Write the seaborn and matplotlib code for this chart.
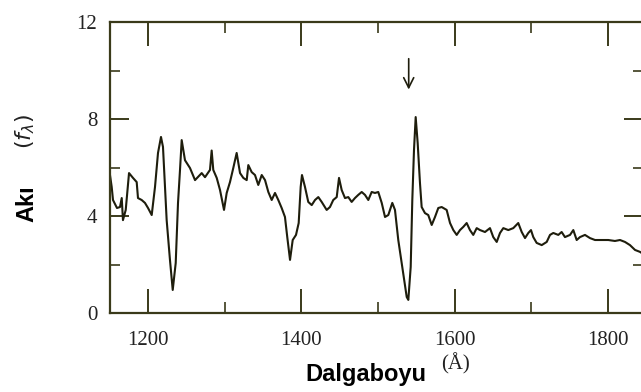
import matplotlib
matplotlib.use("Agg")
import matplotlib.pyplot as plt
import seaborn as sns
import pandas as pd

wavelength = [1150, 1152.6, 1154.3, 1159.5, 1163.4, 1165.7, 1167.3, 1170.9, 1175.2, 1180.4,
              1185.2, 1186.9, 1191.7, 1196, 1200, 1204.8, 1209.1, 1213, 1216.9, 1219.5,
              1224.3, 1228.6, 1232.2, 1236.1, 1239.1, 1241.7, 1243.9, 1248.2, 1254.7, 1261.3,
              1270, 1274.3, 1280.8, 1283, 1285.1, 1289.6, 1293.9, 1299.1, 1302.6, 1306.9,
              1311.2, 1315.6, 1320, 1324.3, 1328.7, 1330.8, 1335.2, 1339.5, 1343.8, 1348.3,
              1352.6, 1356.9, 1361.3, 1365.6, 1369.9, 1374.3, 1378.6, 1381.6, 1385.2, 1388.7,
              1393, 1396.5, 1399.1, 1400.8, 1404.7, 1409, 1413.5, 1417.8, 1422.1, 1426.5,
              1433, 1437.3, 1441.6, 1446.1, 1449.1, 1452.6, 1456.9, 1461.2, 1465.6, 1469.9,
              1474.2, 1478.7, 1483, 1487.3, 1491.7, 1496, 1500.3, 1504.8, 1509.1, 1513.4,
              1518.6, 1522.1, 1526.4, 1531.6, 1537.4, 1539.5, 1542.6, 1544.7, 1546.9, 1549.1,
              1551.7, 1554.7, 1556.9, 1561.2, 1565.5, 1570, 1574.3, 1578.6, 1583, 1589.5,
              1593.9, 1598.2, 1602.6, 1606.9, 1611.2, 1615.6, 1619.9, 1624.2, 1628.7, 1633,
              1639.5, 1646, 1650.3, 1654.8, 1659.1, 1663.4, 1669.9, 1676.4, 1682.9, 1687.4,
              1691.7, 1696, 1699.5, 1702.5, 1706.9, 1713.5, 1720, 1724.3, 1728.6, 1735.1,
              1739.5, 1743.8, 1750.4, 1754.7, 1759.1, 1763.4, 1769.9, 1776.4, 1783, 1791.7,
              1800.3, 1809, 1815.6, 1822.1, 1828.6, 1835.2, 1841.7, 1845]

flux = [5.77, 5.2, 4.66, 4.33, 4.37, 4.74, 3.83, 4.25, 5.77, 5.57,
        5.4, 4.74, 4.66, 4.54, 4.33, 4.04, 5.2, 6.6, 7.26, 6.85,
        3.83, 2.19, 0.95, 2.06, 4.54, 5.9, 7.13, 6.3, 5.98, 5.48,
        5.77, 5.6, 5.9, 6.7, 5.9, 5.57, 5.07, 4.25, 4.95, 5.4,
        5.98, 6.6, 5.77, 5.57, 5.48, 6.1, 5.81, 5.69, 5.28, 5.69,
        5.48, 4.99, 4.66, 4.95, 4.66, 4.33, 3.96, 3.13, 2.19, 3.01,
        3.22, 3.71, 5.2, 5.69, 5.2, 4.58, 4.45, 4.66, 4.78, 4.58,
        4.25, 4.37, 4.66, 4.78, 5.57, 5.07, 4.74, 4.78, 4.58, 4.74,
        4.87, 4.99, 4.87, 4.66, 4.99, 4.95, 4.99, 4.54, 3.96, 4.04,
        4.54, 4.25, 3.01, 1.9, 0.66, 0.54, 1.9, 4.66, 6.72, 8.08,
        7.01, 5.36, 4.37, 4.12, 4.04, 3.63, 3.96, 4.33, 4.37, 4.25,
        3.71, 3.42, 3.22, 3.42, 3.55, 3.71, 3.42, 3.22, 3.5, 3.42,
        3.34, 3.5, 3.13, 2.93, 3.3, 3.5, 3.42, 3.5, 3.71, 3.34,
        3.09, 3.3, 3.42, 3.13, 2.89, 2.8, 2.93, 3.22, 3.3, 3.22,
        3.34, 3.13, 3.22, 3.42, 3.01, 3.13, 3.22, 3.09, 3.01, 3.01,
        3.01, 2.97, 3.01, 2.93, 2.8, 2.6, 2.52, 2.45]

x_major = [1200, 1400, 1600, 1800]
x_minor = [1300, 1500, 1700]
y_major = [0, 4, 8, 12]
y_minor = [2, 6, 10]
x_ticklabels = ["1200", "1400", "1600", "1800"]
y_ticklabels = ["0", "4", "8", "12"]
arrow_x = 1540
arrow_y_top = 10.6
arrow_y_tip = 9.1

df = pd.DataFrame({"wl": wavelength, "flux": flux})

sns.set_style("ticks")
plt.rcParams["font.family"] = ["Liberation Sans", "DejaVu Sans"]

W, H = 641, 392
fig = plt.figure(figsize=(W / 100, H / 100), dpi=100)
left_px, right_px, top_px, bottom_px = 109.7, 643, 22, 313
ax = fig.add_axes([left_px / W, 1 - bottom_px / H, (right_px - left_px) / W, (bottom_px - top_px) / H])

ink = "#1e1d0c"
sns.lineplot(data=df, x="wl", y="flux", ax=ax, color=ink, linewidth=1.5,
             estimator=None, sort=False)

ax.set_xlim(1150, 1845.6)
ax.set_ylim(0, 12)
ax.set_xticks(x_major)
ax.set_xticks(x_minor, minor=True)
ax.set_yticks(y_major)
ax.set_yticks(y_minor, minor=True)
ax.set_xticklabels(x_ticklabels, fontfamily="Liberation Serif", fontsize=15)
ax.set_yticklabels(y_ticklabels, fontfamily="Liberation Serif", fontsize=15)
ax.set_xlabel("")
ax.set_ylabel("")

spine_c = "#3a3a1a"
for s in ax.spines.values():
    s.set_color(spine_c)
    s.set_linewidth(1.6)

ax.tick_params(axis="x", which="major", direction="in", length=17, width=1.4,
               top=True, bottom=True, color=spine_c, pad=13, labelcolor="#222222")
ax.tick_params(axis="x", which="minor", direction="in", length=8, width=1.2,
               top=True, bottom=True, color=spine_c)
ax.tick_params(axis="y", which="major", direction="in", length=14, width=1.4,
               left=True, right=True, color=spine_c, pad=9, labelcolor="#222222")
ax.tick_params(axis="y", which="minor", direction="in", length=7, width=1.2,
               left=True, right=True, color=spine_c)

ax.annotate("", xy=(arrow_x, arrow_y_tip), xytext=(arrow_x, arrow_y_top),
            arrowprops=dict(arrowstyle="->", color=ink, lw=1.2, mutation_scale=18))

def fx(px):
    return px / W

def fy(py):
    return 1 - py / H

fig.text(fx(366), fy(374), "Dalgaboyu", fontsize=17, fontweight="bold",
         ha="center", va="center", color="black")
fig.text(fx(455), fy(364), "(Å)", fontsize=15, fontfamily="Liberation Serif",
         ha="center", va="center", color="#222222")
fig.text(fx(27), fy(204), "Akı", fontsize=17, fontweight="bold", rotation=90,
         ha="center", va="center", color="black")
fig.text(fx(25), fy(131), r"$(f_\lambda)$", fontsize=16, rotation=90,
         ha="center", va="center", color="#222222")

fig.savefig("out.png", dpi=100, facecolor="white")
